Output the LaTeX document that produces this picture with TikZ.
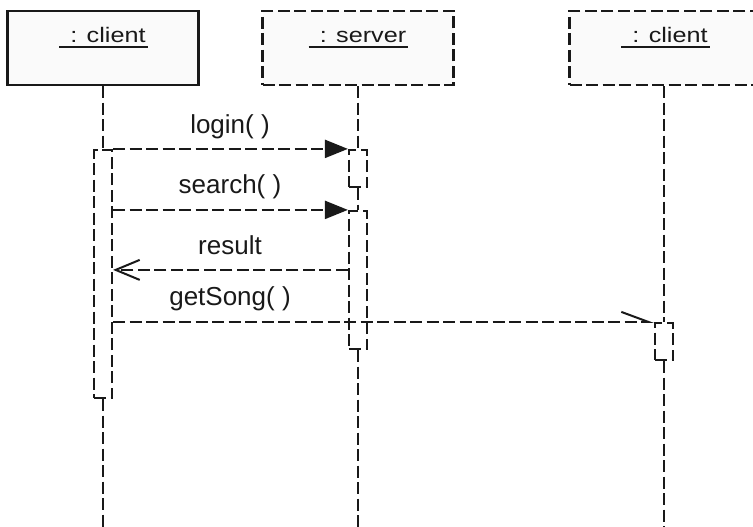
\documentclass[tikz,border=0pt]{standalone}
\usepackage{fontspec}
\setmainfont{Liberation Sans}
\newfontfamily\titlefont[FakeStretch=1.2]{Liberation Sans}
\usetikzlibrary{arrows.meta}
\definecolor{boxfill}{RGB}{250,250,250}
\definecolor{ink}{RGB}{25,25,25}

\begin{document}
\begin{tikzpicture}[x=1pt,y=-1pt,
  line width=2.2pt, draw=ink,
  dsh/.style={dash pattern=on 12pt off 4.5pt},
  obj/.style={draw=ink, fill=boxfill, minimum width=191pt, minimum height=74pt, inner sep=0pt},
  act/.style={draw=ink, dsh, fill=white, minimum width=18pt, inner sep=0pt},
  ttl/.style={font=\titlefont\fontsize{21}{25}\selectfont, text=ink, anchor=base, inner sep=0pt},
  lbl/.style={font=\fontsize{26}{30}\selectfont, text=ink, anchor=base, inner sep=0pt},
  ul/.style={line width=2pt},
  sync/.style={dsh, -{Triangle[length=23pt,width=18pt]}},
  reply/.style={dsh, -{Straight Barb[length=24pt,width=20pt,line width=2pt]}},
  async/.style={dsh, -{Straight Barb[left,length=27pt,width=20pt,line width=2pt]}},
]
\useasboundingbox (0,0) rectangle (753,527);
\clip (0,0) rectangle (753,527);

% object boxes
\node[obj] (c1) at (103,48) {};
\node[obj,dsh] (sv) at (358,48) {};
\node[obj,dsh] (c2) at (665,48) {};

% object names, underlined
\node[ttl] (t1) at (108,42.7) {: client};
\node[ttl] (t2) at (363,42.7) {: server};
\node[ttl] (t3) at (670,42.7) {: client};
\foreach \t in {t1,t2,t3}
  \draw[ul] ([xshift=-10pt,yshift=-4pt]\t.base west) -- ([xshift=1pt,yshift=-4pt]\t.base east);

% activation bars
\node[act, minimum height=248pt] (a1) at (103,274) {};
\node[act, minimum height=37pt]  (a2) at (358,168.5) {};
\node[act, minimum height=138pt] (a3) at (358,280) {};
\node[act, minimum height=37pt]  (a4) at (664,341.5) {};

% lifeline ends
\coordinate (e1) at (103,527);
\coordinate (e2) at (358,527);
\coordinate (e3) at (664,527);

% lifelines
\draw[dsh] (c1.south) -- (a1.north);
\draw[dsh] (a1.south) -- (e1);
\draw[dsh] (sv.south) -- (a2.north);
\draw[dsh] (a2.south) -- (a3.north);
\draw[dsh] (a3.south) -- (e2);
\draw[dsh] (c2.south -| a4.north) -- (a4.north);
\draw[dsh] (a4.south) -- (e3);

% messages
\coordinate (r0) at ([yshift=-60pt]a3.north west);
\draw[sync]  (a1.north east) -- (a2.north west);
\draw[sync]  (a1.east |- a3.north) -- (a3.north west);
\draw[reply] (r0) -- (r0 -| a1.east);
\draw[async] (a1.east |- a4.north) -- (a4.north west);

% message labels
\node[lbl] (m1) at (230,133) {login( )};
\node[lbl] (m2) at (230,193) {search( )};
\node[lbl] (m3) at (230,254) {result};
\node[lbl] (m4) at (230,305) {getSong( )};
\end{tikzpicture}
\end{document}
